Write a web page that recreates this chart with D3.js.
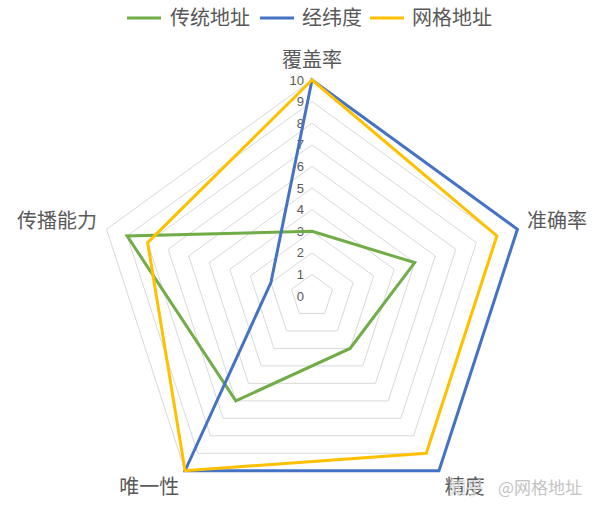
<!DOCTYPE html>
<html>
<head>
<meta charset="utf-8">
<script src="https://cdn.jsdelivr.net/npm/d3@7/dist/d3.min.js"></script>
<style>
html,body{margin:0;padding:0;background:#fff;}
svg{display:block;}
</style>
</head>
<body>
<svg id="chart" width="600" height="512"></svg>
<script>
const categories = ["覆盖率", "准确率", "精度", "唯一性", "传播能力"];
const seriesNames = ["传统地址", "经纬度", "网格地址"];
const traditional = [3, 5, 3, 6, 9];
const latlng = [10, 10, 10, 10, 2];
const grid = [10, 9, 9, 10, 8];
const tickValues = [0, 1, 2, 3, 4, 5, 6, 7, 8, 9, 10];
const colors = ["#70AD47", "#4472C4", "#FFC000"];

const series = [traditional, latlng, grid];
const svg = d3.select("#chart");
const cx = 312, cy = 296, R = 216;
const cjk = "'Noto Sans CJK SC', 'Noto Sans', sans-serif";

const r = d3.scaleLinear().domain([0, 10]).range([0, R]);
const angle = d3.scalePoint().domain(categories).range([0, 2 * Math.PI * (categories.length - 1) / categories.length]);
// angle measured clockwise from top
function pt(cat, v) {
  const a = angle(cat);
  return [cx + r(v) * Math.sin(a), cy - r(v) * Math.cos(a)];
}

// rings
const g = svg.append("g");
tickValues.filter(t => t > 0).forEach(t => {
  g.append("polygon")
    .attr("points", categories.map(c => pt(c, t).join(",")).join(" "))
    .attr("fill", "none")
    .attr("stroke", "#d9d9d9")
    .attr("stroke-width", 1);
});

// tick labels
g.selectAll("text.tick").data(tickValues).enter().append("text")
  .attr("class", "tick")
  .attr("x", cx - 8)
  .attr("y", d => cy - r(d))
  .attr("dy", "0.35em")
  .attr("text-anchor", "end")
  .attr("font-family", "'Liberation Sans', Arial, sans-serif")
  .attr("font-size", 13)
  .attr("fill", "#595959")
  .text(d => d);

// series
const line = d3.line().curve(d3.curveLinearClosed);
series.forEach((s, i) => {
  svg.append("path")
    .attr("d", line(categories.map((c, j) => pt(c, s[j]))))
    .attr("fill", "none")
    .attr("stroke", colors[i])
    .attr("stroke-width", 3)
    .attr("stroke-linejoin", "miter");
});

// category labels
categories.forEach(c => {
  const a = angle(c);
  const s = Math.sin(a), co = Math.cos(a);
  const rl = R + 10;
  const x = cx + rl * s;
  let y = cy - rl * co;
  y += co > 0.9 ? -10 : (co < -0.5 ? 8 : -5);
  const anchor = s > 0.3 ? "start" : (s < -0.3 ? "end" : "middle");
  svg.append("text")
    .attr("x", x).attr("y", y)
    .attr("dy", "0.35em")
    .attr("text-anchor", anchor)
    .attr("font-family", cjk)
    .attr("font-size", 20)
    .attr("fill", "#595959")
    .text(c);
});

// legend
const legendItems = [
  {x: 127, tx: 170},
  {x: 260, tx: 302},
  {x: 370, tx: 412}
];
seriesNames.forEach((n, i) => {
  const L = legendItems[i];
  svg.append("line")
    .attr("x1", L.x).attr("x2", L.x + 34)
    .attr("y1", 18).attr("y2", 18)
    .attr("stroke", colors[i]).attr("stroke-width", 3);
  svg.append("text")
    .attr("x", L.tx).attr("y", 18)
    .attr("dy", "0.35em")
    .attr("font-family", cjk)
    .attr("font-size", 20)
    .attr("fill", "#595959")
    .text(n);
});

// watermark
svg.append("text")
  .attr("x", 449).attr("y", 488)
  .attr("dy", "0.35em")
  .attr("font-family", cjk)
  .attr("font-size", 17)
  .attr("fill", "#ffffff")
  .attr("fill-opacity", 0.55)
  .attr("stroke", "#cfcfcf")
  .attr("stroke-width", 0.6)
  .text("知乎");
svg.append("text")
  .attr("x", 498).attr("y", 488)
  .attr("dy", "0.35em")
  .attr("font-family", cjk)
  .attr("font-size", 17)
  .attr("fill", "#c4c4c4")
  .text("@网格地址");
</script>
</body>
</html>
